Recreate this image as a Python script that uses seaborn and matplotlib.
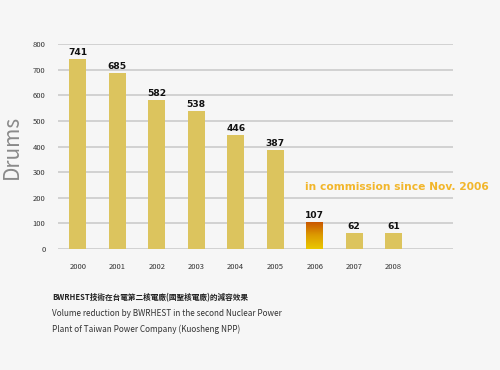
import numpy as np
import pandas as pd
import matplotlib
matplotlib.use("Agg")
import matplotlib.pyplot as plt
from matplotlib.colors import LinearSegmentedColormap
import seaborn as sns

# ── Data ─────────────────────────────────────────────────────────────
years = ["2000", "2001", "2002", "2003", "2004", "2005", "2006", "2007", "2008"]
drums = [741, 685, 582, 538, 446, 387, 107, 62, 61]
yticks = [0, 100, 200, 300, 400, 500, 600, 700, 800]

caption_zh = "BWRHEST技術在台電第二核電廠(國聖核電廠)的減容效果"
caption_en = ["Volume reduction by BWRHEST in the second Nuclear Power",
              "Plant of Taiwan Power Company (Kuosheng NPP)"]
note = "in commission since Nov. 2006"

BG = "#f6f6f6"
BAR = "#dcc45e"

sns.set_theme(style="white")
plt.rcParams["font.family"] = ["Noto Sans CJK TC", "DejaVu Sans"]

df = pd.DataFrame({"year": years, "drums": drums})

fig = plt.figure(figsize=(5, 3.7), dpi=100, facecolor=BG)
ax = fig.add_axes([0.116, 0.327, 0.79, 0.554])
ax.set_facecolor(BG)

for y in yticks:
    ax.axhline(y, color="#cfcfcf", linewidth=1.3, zorder=1)

sns.barplot(data=df, x="year", y="drums", color=BAR, width=0.43,
            saturation=1, linewidth=0, ax=ax)
for p in ax.patches:
    p.set_zorder(3)
    p.set_edgecolor("none")

# gradient fill on the 2006 bar (yellow at the bottom, burnt orange on top)
grad = LinearSegmentedColormap.from_list("g", ["#eac800", "#dc9a00", "#c85200"])
bar06 = ax.patches[years.index("2006")]
bx, bw, bh = bar06.get_x(), bar06.get_width(), bar06.get_height()
img = ax.imshow(np.linspace(0, 1, 100).reshape(-1, 1), cmap=grad, origin="lower",
                extent=[bx, bx + bw, 0, bh], aspect="auto", zorder=4)
img.set_clip_path(bar06)

ax.set_xlim(-0.5, 9.5)
ax.set_ylim(0, 800)
ax.set_yticks(yticks)

for i, v in enumerate(drums):
    ax.text(i, v + 8, str(v), ha="center", va="bottom", fontsize=6.6,
            fontweight="bold", color="#111111", family="DejaVu Sans", zorder=5)

sns.despine(ax=ax, left=True, bottom=True)
ax.tick_params(axis="both", length=0, labelsize=5.5, colors="#333333")
ax.tick_params(axis="x", pad=10)
ax.tick_params(axis="y", pad=9)
ax.set_xlabel("")
ax.set_ylabel("Drums", fontsize=15, color="#8a8a8a", labelpad=7)

ax.text(8.08, 242, note, fontsize=7.7, fontweight="bold", color="#f2b62a",
        ha="center", va="center", family="DejaVu Sans", zorder=5)

fig.text(0.104, 0.188, caption_zh, fontsize=5.5, color="#222222", fontweight="bold")
fig.text(0.104, 0.145, caption_en[0], fontsize=5.9, color="#333333")
fig.text(0.104, 0.104, caption_en[1], fontsize=5.9, color="#333333")

plt.savefig("out.png", dpi=100, facecolor=BG)
plt.close()
